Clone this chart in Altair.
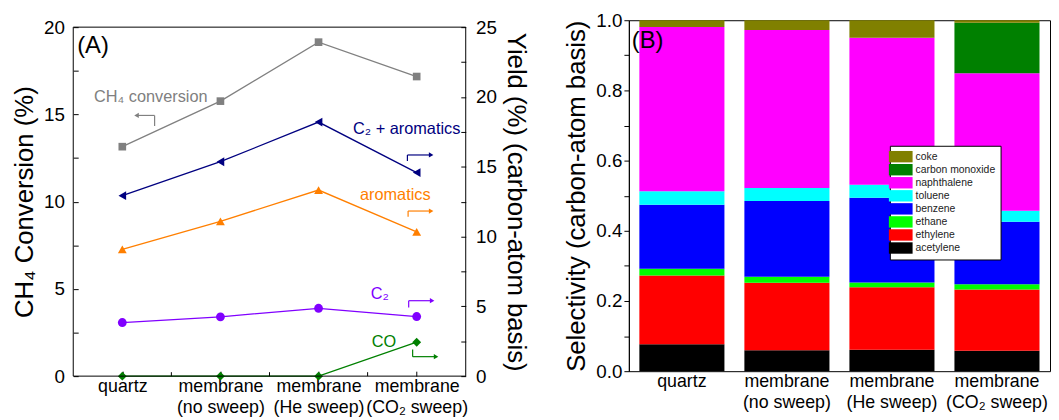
import altair as alt
import pandas as pd

FONT = "Liberation Sans"

# ---------------- data ----------------
categories = ["quartz", "membrane|(no sweep)", "membrane|(He sweep)", "membrane|(CO₂ sweep)"]

# panel A, left axis: CH4 conversion (%)
ch4_conversion = [13.15, 15.76, 19.14, 17.17]
# panel A, right axis: yields (%) (carbon-atom basis)
yield_c2_aromatics = [12.93, 15.36, 18.20, 14.58]
yield_aromatics = [9.08, 11.09, 13.33, 10.33]
yield_c2 = [3.84, 4.25, 4.86, 4.27]
yield_co = [0.0, 0.0, 0.0, 2.43]

yield_series = ["C₂ + aromatics", "aromatics", "C₂", "CO"]
yield_colors = ["#000080", "#FF7F00", "#8000FF", "#008000"]
yield_shapes = ["triangle-left", "triangle-up", "circle", "diamond"]

# panel B: selectivity (carbon-atom basis), stacked bottom -> top
products = ["acetylene", "ethylene", "ethane", "benzene", "toluene",
            "naphthalene", "carbon monoxide", "coke"]
product_colors = ["#000000", "#FF0000", "#00FF00", "#0000FF", "#00FFFF",
                  "#FF00FF", "#008000", "#808000"]
sel_quartz = [0.077, 0.196, 0.019, 0.182, 0.039, 0.468, 0.000, 0.019]
sel_no_sweep = [0.060, 0.192, 0.017, 0.216, 0.037, 0.450, 0.000, 0.028]
sel_he_sweep = [0.061, 0.178, 0.014, 0.241, 0.037, 0.419, 0.000, 0.050]
sel_co2_sweep = [0.058, 0.175, 0.015, 0.178, 0.031, 0.392, 0.144, 0.007]

# ---------------- tables ----------------
conv_df = pd.DataFrame({"cond": categories, "conv": ch4_conversion})
rows = []
for name, vals in zip(yield_series, [yield_c2_aromatics, yield_aromatics, yield_c2, yield_co]):
    for c, v in zip(categories, vals):
        rows.append({"cond": c, "series": name, "yield": v})
yield_df = pd.DataFrame(rows)

rows = []
for c, vals in zip(categories, [sel_quartz, sel_no_sweep, sel_he_sweep, sel_co2_sweep]):
    for i, (p, v) in enumerate(zip(products, vals)):
        rows.append({"cond": c, "product": p, "sel": v, "idx": i})
sel_df = pd.DataFrame(rows)

# ---------------- panel A ----------------
# panel A's group is 7px taller than its plot frame (frame starts TOP_A below the group top)
W_A, H_A, TOP_A = 397, 360, 7

x_a = alt.X("cond:N", sort=categories,
            axis=alt.Axis(title=None, labelExpr="split(datum.label, '|')", labelAngle=0,
                          labelFontSize=18, labelLineHeight=21, offset=-5, tickSize=5,
                          domain=False, labelPadding=2, labelColor="black", tickColor="black"))

left_vals = [i * 2.5 for i in range(9)]
right_vals = [i * 2.5 for i in range(11)]

y_conv = alt.Y("conv:Q", scale=alt.Scale(domain=[0, 20], range=[H_A, TOP_A], nice=False, zero=True),
               axis=alt.Axis(title="CH₄ Conversion (%)", orient="left", values=left_vals,
                             labelExpr="datum.value % 5 == 0 ? datum.label : ''",
                             offset=-5, tickSize=5, domain=False, labelPadding=9,
                             labelFontSize=19, titleFontSize=26, titlePadding=6,
                             grid=False, labelColor="black", titleColor="black",
                             tickColor="black", titleFontWeight="normal"))

y_yield = alt.Y("yield:Q", scale=alt.Scale(domain=[0, 25], range=[H_A, TOP_A], nice=False, zero=True),
                axis=alt.Axis(title="Yield (%) (carbon-atom basis)", orient="right", values=right_vals,
                              labelExpr="datum.value % 5 == 0 ? datum.label : ''",
                              offset=-5, tickSize=5, domain=False, labelPadding=10,
                              labelFontSize=19, titleFontSize=26, titlePadding=6,
                              grid=False, labelColor="black", titleColor="black",
                              tickColor="black", titleFontWeight="normal"))

conv_line = alt.Chart(conv_df).mark_line(color="#808080", strokeWidth=1.3).encode(x=x_a, y=y_conv)
conv_pts = alt.Chart(conv_df).mark_point(shape="square", filled=True, size=60, color="#808080",
                                         opacity=1).encode(x=x_a, y=y_conv)

col = alt.Color("series:N", scale=alt.Scale(domain=yield_series, range=yield_colors), legend=None)
shp = alt.Shape("series:N", scale=alt.Scale(domain=yield_series, range=yield_shapes), legend=None)
yield_line = alt.Chart(yield_df).mark_line(strokeWidth=1.3).encode(x=x_a, y=y_yield, color=col,
                                                                   detail="series:N")
yield_pts = alt.Chart(yield_df).mark_point(filled=True, size=80, opacity=1).encode(
    x=x_a, y=y_yield, color=col, shape=shp)

conv_layer = alt.layer(conv_line, conv_pts)
yield_layer = alt.layer(yield_line, yield_pts)


def label(text, x, y, color, size=16.5):
    return alt.Chart(pd.DataFrame({"t": [text]})).mark_text(
        align="left", baseline="alphabetic", fontSize=size, color=color, font=FONT
    ).encode(text="t:N", x=alt.value(x), y=alt.value(y))


def seg(x0, x1, y0, y1, color, w=1.2):
    return alt.Chart(pd.DataFrame({"a": [0]})).mark_rule(color=color, strokeWidth=w).encode(
        x=alt.value(x0), x2=alt.value(x1), y=alt.value(y0), y2=alt.value(y1))


def head(x, y, shape, color):
    return alt.Chart(pd.DataFrame({"a": [0]})).mark_point(
        shape=shape, filled=True, size=28, color=color, opacity=1).encode(
        x=alt.value(x), y=alt.value(y))


T = TOP_A
annots = [
    # frame of panel A
    seg(0, W_A, T, T, "black", 1), seg(0, W_A, H_A, H_A, "black", 1),
    seg(0, 0, T, H_A, "black", 1), seg(W_A, W_A, T, H_A, "black", 1),
    # minor x ticks between the categories (inward)
    seg(W_A * 0.25, W_A * 0.25, H_A - 4, H_A, "black", 1),
    seg(W_A * 0.50, W_A * 0.50, H_A - 4, H_A, "black", 1),
    seg(W_A * 0.75, W_A * 0.75, H_A - 4, H_A, "black", 1),
    label("(A)", 4, 26 + T, "black", 24),
    label("CH₄ conversion", 21, 76 + T, "#808080"),
    label("C₂ + aromatics", 283, 108 + T, "#000080"),
    label("aromatics", 290, 175 + T, "#FF7F00"),
    label("C₂", 301, 275 + T, "#8000FF"),
    label("CO", 302, 324 + T, "#008000"),
    # arrows
    seg(65, 82.3, 89.3 + T, 89.3 + T, "#808080"), seg(82.3, 82.3, 89.3 + T, 100 + T, "#808080"),
    head(64, 89.3 + T, "triangle-left", "#808080"),
    seg(338, 361, 129.3 + T, 129.3 + T, "#000080"), seg(338, 338, 129.3 + T, 135.3 + T, "#000080"),
    head(362, 129.3 + T, "triangle-right", "#000080"),
    seg(338.7, 361, 186 + T, 186 + T, "#FF7F00"), seg(338.7, 338.7, 186 + T, 191.7 + T, "#FF7F00"),
    head(362, 186 + T, "triangle-right", "#FF7F00"),
    seg(339.3, 362, 276.7 + T, 276.7 + T, "#8000FF"), seg(339.3, 339.3, 276.7 + T, 283.7 + T, "#8000FF"),
    head(363, 276.7 + T, "triangle-right", "#8000FF"),
    seg(343.3, 366, 333.3 + T, 333.3 + T, "#008000"), seg(343.3, 343.3, 326 + T, 333.3 + T, "#008000"),
    head(367, 333.3 + T, "triangle-right", "#008000"),
]

panel_a = alt.layer(conv_layer, yield_layer, *annots).resolve_scale(y="independent").properties(
    width=W_A, height=H_A, view=alt.ViewBackground(stroke="transparent"))

# ---------------- panel B ----------------
W_B, H_B = 426, 355
legend_order = list(reversed(products))
legend_colors = list(reversed(product_colors))

bars = alt.Chart(sel_df).mark_bar(strokeWidth=0).encode(
    x=alt.X("cond:N", sort=categories,
            scale=alt.Scale(paddingInner=0.19, paddingOuter=0.1),
            axis=alt.Axis(title=None, labelExpr="split(datum.label, '|')", labelAngle=0,
                          labelFontSize=18, labelLineHeight=22, ticks=False, domain=False,
                          labelPadding=1, labelColor="black")),
    y=alt.Y("sel:Q", stack="zero", scale=alt.Scale(domain=[0, 1], nice=False),
            axis=alt.Axis(title="Selectivity (carbon-atom basis)", values=[i / 10 for i in range(11)],
                          labelExpr="round(datum.value * 10) % 2 == 0 ? format(datum.value, '.1f') : ''",
                          labelOverlap=False, tickSize=5, labelPadding=2, domain=True,
                          domainColor="black", tickColor="black", labelFontSize=19,
                          titleFontSize=26, titlePadding=6, grid=False, labelColor="black",
                          titleColor="black", titleFontWeight="normal")),
    color=alt.Color("product:N", scale=alt.Scale(domain=legend_order, range=legend_colors),
                    legend=alt.Legend(title=None, orient="none", legendX=264, legendY=127,
                                      symbolType="M-2,-0.96H2V0.96H-2Z", symbolSize=144,
                                      symbolStrokeWidth=0, symbolOpacity=1, labelFontSize=10.5,
                                      labelFont=FONT, labelColor="#222222", labelOffset=9,
                                      padding=5, rowPadding=1.2, strokeColor="black",
                                      fillColor="white")),
    order=alt.Order("idx:Q", sort="ascending"),
)

panel_b = alt.layer(bars, label("(B)", 3, 28, "black", 24)).properties(
    width=W_B, height=H_B, view=alt.ViewBackground(stroke="black", strokeWidth=1))

chart = alt.hconcat(panel_a, panel_b, spacing=35).resolve_scale(
    color="independent", shape="independent"
).properties(
    padding={"left": 3, "top": 0, "right": 0, "bottom": 0}
).configure(font=FONT)

chart.save("out.html", embed_options={"renderer": "svg", "actions": False})
